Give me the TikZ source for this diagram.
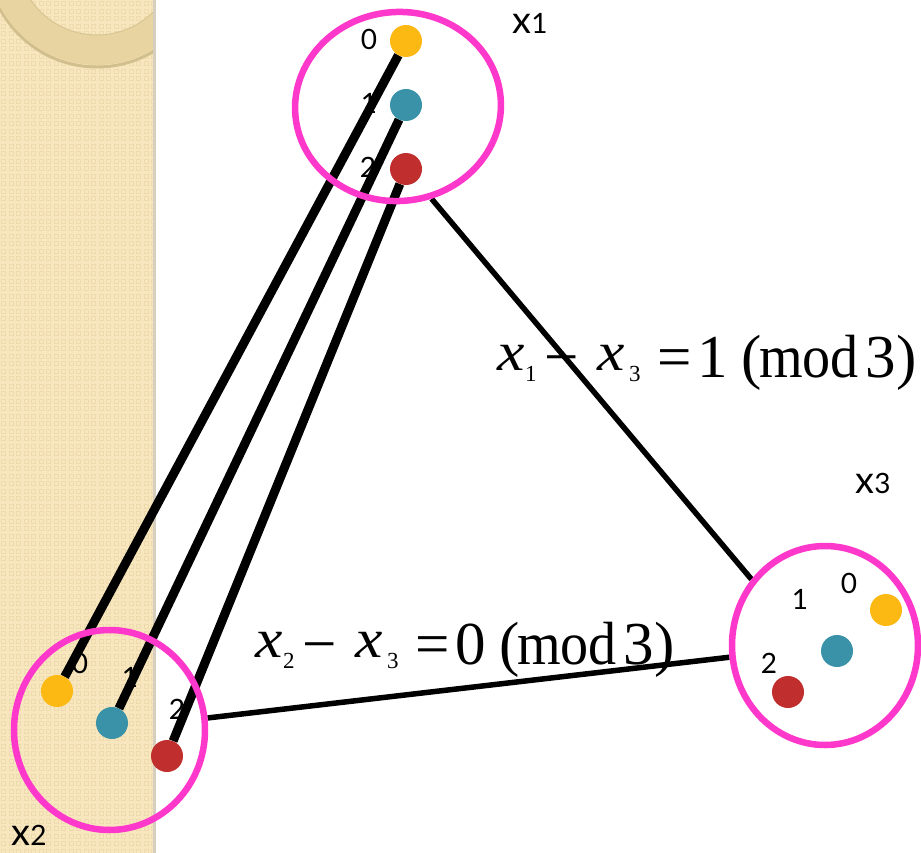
\documentclass[tikz,border=0pt]{standalone}
\usepackage{fontspec}
\usepackage{graphicx}
\usetikzlibrary{shapes.geometric}
\setmainfont{Lato}
\newfontfamily\eqfont{Liberation Serif}
\definecolor{stripc}{HTML}{F8E7BE}
\definecolor{patc}{HTML}{EEDBAD}
\definecolor{ringc}{HTML}{E8D4A0}
\definecolor{ringd}{HTML}{D2BF8E}
\definecolor{edgec}{HTML}{D6CEBE}
\definecolor{pinkc}{HTML}{FF38CC}
\definecolor{yelc}{HTML}{FDB913}
\definecolor{tealc}{HTML}{3A92A8}
\definecolor{redc}{HTML}{C12E2E}
\pgfdeclarelayer{back}
\pgfdeclarelayer{bg}
\pgfsetlayers{back,bg,main}
\newcommand\eqx{\raisebox{7pt}{\scalebox{1.12}[1]{\fontsize{55}{55}\selectfont\itshape x}}}
\newcommand\eqsub[1]{\raisebox{-4pt}{\fontsize{23}{23}\selectfont #1}}
\newcommand\pc[2]{\makebox[#1][l]{#2}}
\newcommand\eqline[2]{\eqfont\fontsize{61}{61}\selectfont
  \pc{28pt}{\eqx}\pc{19pt}{\eqsub{#1}}\pc{53pt}{−}\pc{32pt}{\eqx}\pc{28pt}{\eqsub{3}}%
  \pc{40pt}{=}\pc{44pt}{#2}\pc{18pt}{(}\pc{106pt}{\scalebox{0.92}[1]{mod}}\pc{31pt}{3}\pc{20pt}{)}}
\begin{document}
\begin{tikzpicture}[x=1pt,y=-1pt,
  vdot/.style={circle, minimum size=32pt, inner sep=0pt, fill=#1},
  grp/.style={ellipse, draw=pinkc, line width=6.5pt, inner sep=0pt},
  lbl/.style={font=\fontsize{28}{28}\selectfont, inner sep=0pt},
  link/.style={line width=9pt},
  cons/.style={line width=5.5pt}]
\useasboundingbox (0,0) rectangle (921,853);
\clip (0,0) rectangle (921,853);
\begin{pgfonlayer}{back}
  \fill[white] (0,0) rectangle (921,853);
  \fill[stripc] (0,0) rectangle (153,853);
  \begin{scope}
    \clip (0,0) rectangle (153,853);
    \foreach \i in {0,...,20}{
      \foreach \j in {0,...,114}{
        \draw[patc, line width=0.9pt] (\i*7.5+1.5,\j*7.5+1.5) rectangle ++(4,4);
      }
    }
    \draw[ringd, line width=3pt] (97,-43) circle[radius=110];
    \fill[ringc, even odd rule] (97,-45) circle[radius=110] (97,-45) circle[radius=80];
    \draw[ringd!70!ringc, line width=1pt] (97,-45) circle[radius=80];
  \end{scope}
  \fill[edgec] (153,0) rectangle (156,853);
\end{pgfonlayer}

% groups
\node[grp, minimum width=206pt, minimum height=189pt, rotate=5] (E1) at (398,106.5) {};
\node[grp, minimum width=191pt, minimum height=200pt] (E2) at (109.5,730) {};
\node[grp, minimum width=186pt, minimum height=199pt] (E3) at (825,645.5) {};

% dots
\node[vdot=yelc]  (a0) at (406,41) {};
\node[vdot=tealc] (a1) at (406,105) {};
\node[vdot=redc]  (a2) at (406,169) {};
\node[vdot=yelc]  (b0) at (57,691) {};
\node[vdot=tealc] (b1) at (112,723) {};
\node[vdot=redc]  (b2) at (167,756) {};
\node[vdot=yelc]  (c0) at (886,610) {};
\node[vdot=tealc] (c1) at (837,651) {};
\node[vdot=redc]  (c2) at (788,692) {};

% labels
\node[lbl] (la0) at (369,39) {0};
\node[lbl] (la1) at (369,103) {1};
\node[lbl] (la2) at (368,167) {2};
\node[lbl] (lb0) at (80,663) {0};
\node[lbl] (lb1) at (130,677) {1};
\node[lbl] (lb2) at (177,709) {2};
\node[lbl] (lc0) at (849,583) {0};
\node[lbl] (lc1) at (800,599) {1};
\node[lbl] (lc2) at (769,663) {2};
\node[lbl] (nx1) at (530,23) {{\fontsize{38}{38}\selectfont x}1};
\node[lbl] (nx2) at (29,835) {{\fontsize{38}{38}\selectfont x}2};
\node[lbl] (nx3) at (873,483) {{\fontsize{38}{38}\selectfont x}3};

% equations
\node[anchor=base west, inner sep=0pt] (eq1) at (497,377) {\eqline{1}{1}};
\node[anchor=base west, inner sep=0pt] (eq2) at (255,664) {\eqline{2}{0}};

% connectors
\begin{pgfonlayer}{bg}
  \draw[link] (a0) -- (b0);
  \draw[link] (a1) -- (b1);
  \draw[link] (a2) -- (b2);
  \draw[cons] (E1.-75) -- (E3.138);
  \draw[cons] (E2.7) -- (E3.187);
\end{pgfonlayer}
\end{tikzpicture}
\end{document}
